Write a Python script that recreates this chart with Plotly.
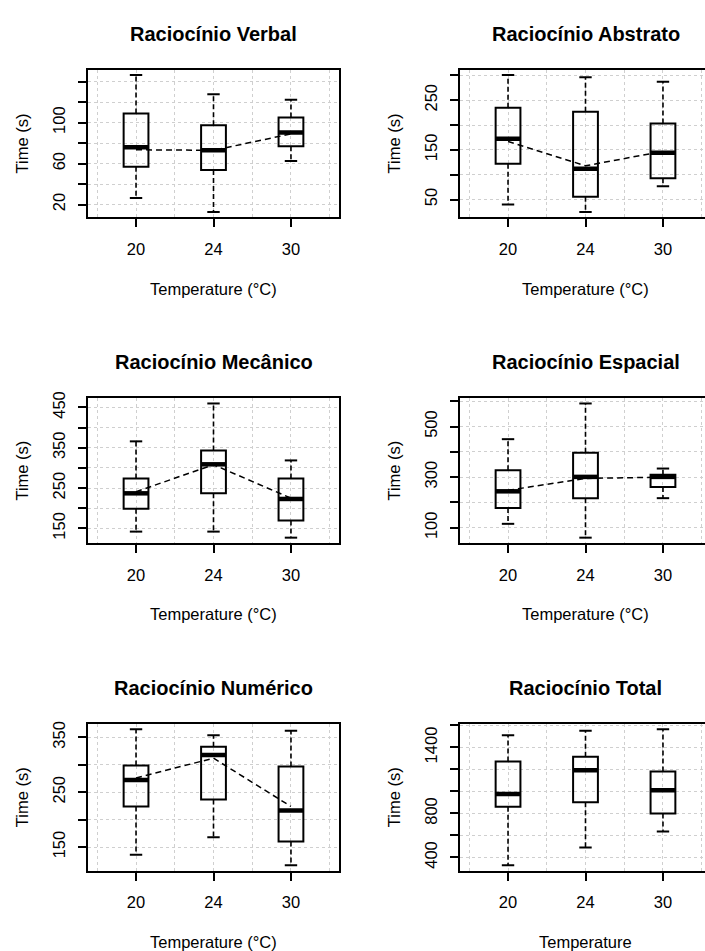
import plotly.graph_objects as go

# ---------------- data ----------------
temps = ["20", "24", "30"]
positions = [1, 2, 3]

titles = ["Raciocínio Verbal", "Raciocínio Abstrato", "Raciocínio Mecânico",
          "Raciocínio Espacial", "Raciocínio Numérico", "Raciocínio Total"]
x_titles = ["Temperature (°C)", "Temperature (°C)", "Temperature (°C)",
            "Temperature (°C)", "Temperature (°C)", "Temperature"]
y_title = "Time (s)"

verbal_low = [26.5, 12.8, 62.5]
verbal_q1 = [57, 53.7, 77]
verbal_med = [76, 73, 90.3]
verbal_q3 = [108.9, 97.5, 105]
verbal_high = [146.5, 127.8, 122.3]
verbal_mean = [73.5, 73, 89]
verbal_ticks = [20, 40, 60, 80, 100, 120, 140]
verbal_ticklabels = ["20", "", "60", "", "100", "", ""]

abstrato_low = [40, 25, 77]
abstrato_q1 = [122, 55.4, 93]
abstrato_med = [172.6, 112, 144.3]
abstrato_q3 = [235, 226.5, 203]
abstrato_high = [300.7, 296, 287]
abstrato_mean = [167, 118, 147]
abstrato_ticks = [50, 100, 150, 200, 250, 300]
abstrato_ticklabels = ["50", "", "150", "", "250", ""]

mecanico_low = [142, 142, 127]
mecanico_q1 = [199, 237, 169.6]
mecanico_med = [237, 309, 223]
mecanico_q3 = [274, 343, 274]
mecanico_high = [366, 460, 318.7]
mecanico_mean = [241, 308, 225]
mecanico_ticks = [150, 200, 250, 300, 350, 400, 450]
mecanico_ticklabels = ["150", "", "250", "", "350", "", "450"]

espacial_low = [115.6, 61, 217]
espacial_q1 = [178, 217, 261]
espacial_med = [244, 301, 301]
espacial_q3 = [327, 396, 309]
espacial_high = [450, 591, 334]
espacial_mean = [248, 295, 300]
espacial_ticks = [100, 200, 300, 400, 500, 600]
espacial_ticklabels = ["100", "", "300", "", "500", ""]

numerico_low = [136, 168, 117]
numerico_q1 = [224, 236.7, 160.3]
numerico_med = [272.4, 318, 216.7]
numerico_q3 = [298.5, 333, 296.7]
numerico_high = [365, 354, 362]
numerico_mean = [276, 312, 224]
numerico_ticks = [150, 200, 250, 300, 350]
numerico_ticklabels = ["150", "", "250", "", "350"]

total_low = [330, 491, 636]
total_q1 = [861, 903, 800]
total_med = [976, 1194, 1012]
total_q3 = [1273, 1315, 1182]
total_high = [1512, 1552, 1567]
total_mean = None
total_ticks = [400, 600, 800, 1000, 1200, 1400, 1600]
total_ticklabels = ["400", "", "800", "", "", "1400", ""]

panels = [
    (verbal_low, verbal_q1, verbal_med, verbal_q3, verbal_high, verbal_mean, verbal_ticks, verbal_ticklabels),
    (abstrato_low, abstrato_q1, abstrato_med, abstrato_q3, abstrato_high, abstrato_mean, abstrato_ticks, abstrato_ticklabels),
    (mecanico_low, mecanico_q1, mecanico_med, mecanico_q3, mecanico_high, mecanico_mean, mecanico_ticks, mecanico_ticklabels),
    (espacial_low, espacial_q1, espacial_med, espacial_q3, espacial_high, espacial_mean, espacial_ticks, espacial_ticklabels),
    (numerico_low, numerico_q1, numerico_med, numerico_q3, numerico_high, numerico_mean, numerico_ticks, numerico_ticklabels),
    (total_low, total_q1, total_med, total_q3, total_high, total_mean, total_ticks, total_ticklabels),
]

# ---------------- layout constants ----------------
W, H = 705, 951
FONT = "Liberation Sans, Arial, sans-serif"
col_left = [88, 460]          # frame left edge (px)
frame_w = 251                 # frame width (px)
rows = [(63, 212), (394, 540), (722, 870)]  # frame top / bottom (px)
x_lo, x_hi = 0.38, 3.62
ppu = frame_w / (x_hi - x_lo)
box_w = 0.32
cap_w = 0.16
grid_col = "#cfcfcf"

fig = go.Figure()
annotations = []

for i, (low, q1, med, q3, high, mean, ticks, ticklabels) in enumerate(panels):
    r, c = divmod(i, 2)
    n = i + 1
    xa, ya = f"x{n}", f"y{n}"
    left = col_left[c]
    right = min(left + frame_w, W)
    top, bottom = rows[r]

    # box bodies
    fig.add_trace(go.Box(
        x=positions, q1=q1, median=med, q3=q3, lowerfence=q1, upperfence=q3,
        width=box_w, whiskerwidth=0, fillcolor="rgba(0,0,0,0)",
        line=dict(color="black", width=2), boxpoints=False,
        xaxis=xa, yaxis=ya, showlegend=False, hoverinfo="skip"))

    # thick medians
    mx, my = [], []
    for p, m in zip(positions, med):
        mx += [p - box_w / 2, p + box_w / 2, None]
        my += [m, m, None]
    fig.add_trace(go.Scatter(x=mx, y=my, mode="lines", line=dict(color="black", width=4.5),
                             xaxis=xa, yaxis=ya, showlegend=False, hoverinfo="skip"))

    # dashed whiskers
    wx, wy = [], []
    for p, a, b, lo_, hi_ in zip(positions, q1, q3, low, high):
        wx += [p, p, None, p, p, None]
        wy += [b, hi_, None, a, lo_, None]
    fig.add_trace(go.Scatter(x=wx, y=wy, mode="lines",
                             line=dict(color="black", width=1.6, dash="5px,3px"),
                             xaxis=xa, yaxis=ya, showlegend=False, hoverinfo="skip"))

    # staples
    sx, sy = [], []
    for p, lo_, hi_ in zip(positions, low, high):
        sx += [p - cap_w / 2, p + cap_w / 2, None, p - cap_w / 2, p + cap_w / 2, None]
        sy += [hi_, hi_, None, lo_, lo_, None]
    fig.add_trace(go.Scatter(x=sx, y=sy, mode="lines", line=dict(color="black", width=2),
                             xaxis=xa, yaxis=ya, showlegend=False, hoverinfo="skip"))

    # mean line
    if mean is not None:
        fig.add_trace(go.Scatter(x=positions, y=mean, mode="lines",
                                 line=dict(color="black", width=1.5, dash="6px,4px"),
                                 xaxis=xa, yaxis=ya, showlegend=False, hoverinfo="skip"))

    lo, hi = min(low), max(high)
    pad = 0.04 * (hi - lo)
    xr = [x_lo, x_lo + (right - left) / ppu]

    fig.layout[f"xaxis{n}"] = dict(
        domain=[left / W, right / W], range=xr, anchor=ya,
        tickmode="array", tickvals=positions, ticktext=temps,
        ticks="outside", ticklen=8, tickwidth=2, tickcolor="black",
        showline=True, linewidth=2, linecolor="black", mirror=True,
        showgrid=True, gridcolor=grid_col, griddash="dot", gridwidth=1,
        minor=dict(tickvals=[0.5, 1.5, 2.5, 3.5], showgrid=True, gridcolor=grid_col,
                   griddash="dot", gridwidth=1, ticks=""),
        zeroline=False, tickfont=dict(family=FONT, size=16.5, color="black"),
        ticklabelstandoff=8, fixedrange=True)
    fig.layout[f"yaxis{n}"] = dict(
        domain=[1 - bottom / H, 1 - top / H], range=[lo - pad, hi + pad], anchor=xa,
        tickmode="array", tickvals=ticks, ticktext=ticklabels, tickangle=-90,
        ticks="outside", ticklen=8, tickwidth=2, tickcolor="black",
        showline=True, linewidth=2, linecolor="black", mirror=(c == 0),
        showgrid=True, gridcolor=grid_col, griddash="dot", gridwidth=1,
        zeroline=False, tickfont=dict(family=FONT, size=16.5, color="black"),
        ticklabelstandoff=6, fixedrange=True)

    cx = (left + frame_w / 2) / W
    annotations.append(dict(text=titles[i], x=cx, y=1 - (top - 36) / H, xref="paper", yref="paper",
                            showarrow=False, xanchor="center", yanchor="middle",
                            font=dict(family=FONT, size=20, color="black", weight="bold")))
    annotations.append(dict(text=x_titles[i], x=cx, y=1 - (bottom + 72) / H, xref="paper", yref="paper",
                            showarrow=False, xanchor="center", yanchor="middle",
                            font=dict(family=FONT, size=16.5, color="black")))
    annotations.append(dict(text=y_title, x=(left - 66) / W, y=1 - (top + bottom) / 2 / H,
                            xref="paper", yref="paper", textangle=-90,
                            showarrow=False, xanchor="center", yanchor="middle",
                            font=dict(family=FONT, size=16.5, color="black")))

fig.update_layout(width=W, height=H, margin=dict(l=0, r=0, t=0, b=0),
                  paper_bgcolor="white", plot_bgcolor="white",
                  annotations=annotations, showlegend=False)

fig.write_html(
    "out.html",
    config={"displayModeBar": False},
    post_script=(
        "document.body.style.margin='0px';document.body.style.overflow='hidden';"
        "var g=document.getElementsByClassName('plotly-graph-div')[0];"
        "g.style.position='fixed';g.style.top='0px';g.style.left='0px';"
    ),
)
